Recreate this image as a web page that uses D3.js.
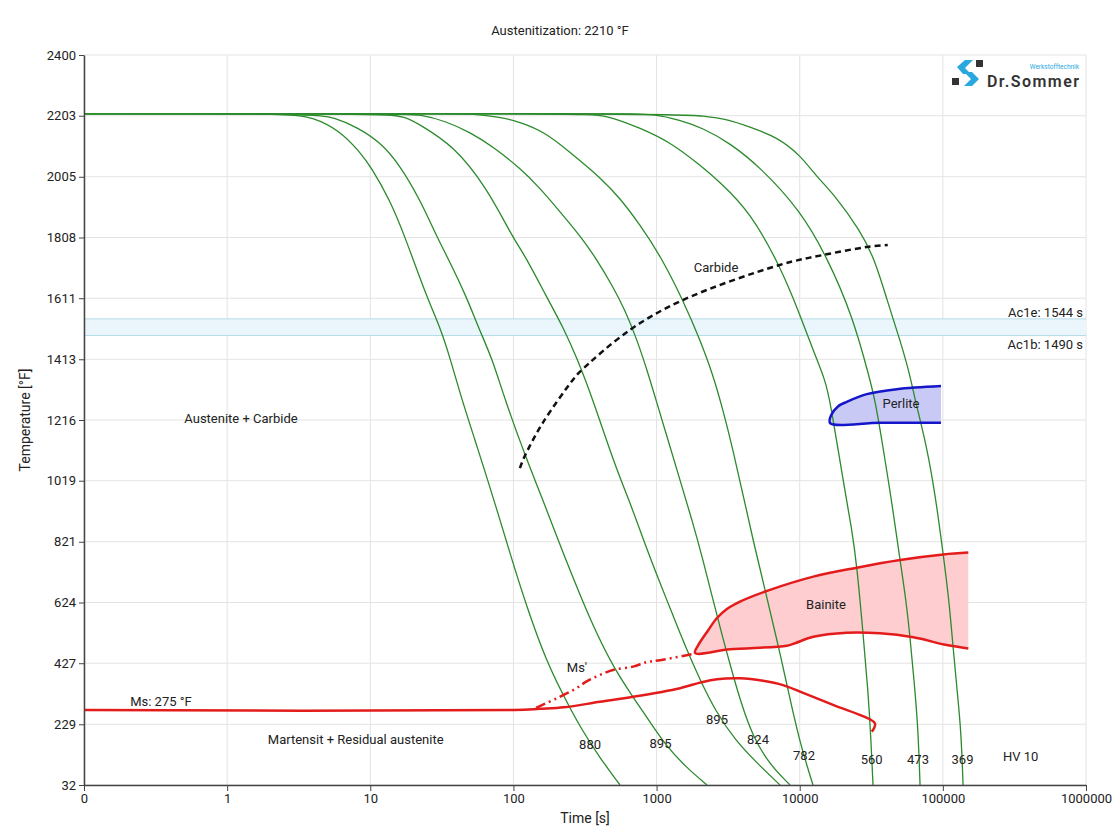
<!DOCTYPE html>
<html>
<head>
<meta charset="utf-8">
<script src="https://cdn.jsdelivr.net/npm/d3@7"></script>
<style>
  body { margin: 0; background: #fff; }
  text { font-family: Roboto, "Noto Sans", sans-serif; fill: #222; }
</style>
</head>
<body>
<div id="chart"></div>
<script>
const W = 1120, H = 840;
const margin = {top: 55, right: 34, bottom: 55, left: 84};

// axis ticks
const xTicks = [0.1, 1, 10, 100, 1000, 10000, 100000, 1000000];
const xTickLabels = ["0", "1", "10", "100", "1000", "10000", "100000", "1000000"];
const yTicks = [32, 229, 427, 624, 821, 1019, 1216, 1413, 1611, 1808, 2005, 2203, 2400];

// cooling curves (time in s, temperature in °F) and their hardness HV 10
const hardness = [880, 895, 895, 824, 782, 560, 473, 369];
const curveTimes = [
    [0.1, 2.75, 3.92, 6.05, 8.48, 10.1, 13.7, 17.5, 24.9, 30.7, 36.1, 43.7, 53.9, 66.4, 80.6, 97.7, 126, 169, 226, 301, 402, 555],
    [0.1, 4.04, 5.67, 8.08, 11.7, 16.1, 22.3, 29.2, 34.9, 47.4, 56.6, 70.9, 87.3, 124, 166, 218, 292, 384, 513, 685, 900, 1183, 1632, 2251],
    [0.1, 11.3, 17.5, 22.3, 37.8, 65.4, 99.3, 120, 172, 222, 278, 360, 504, 663, 844, 1057, 1282, 1606, 2012, 2601, 3532, 5030, 7287],
    [0.1, 16.1, 22.3, 33.3, 49.7, 74.3, 111, 153, 212, 297, 384, 488, 602, 730, 858, 991, 1202, 1458, 1769, 2110, 2480, 2866, 3311, 3890, 4718, 6200, 8555],
    [0.1, 36.1, 52.2, 80.6, 111, 166, 248, 402, 555, 766, 1057, 1530, 2012, 2480, 2912, 3420, 4018, 4718, 5723, 6939, 8154, 9888, 12380],
    [0.1, 292, 451, 766, 1241, 2012, 2775, 4495, 7287, 10050, 12790, 15030, 16280, 20070, 23190, 25140, 27680, 30000, 31480, 32510],
    [0.1, 652, 944, 1458, 2110, 3259, 5279, 10050, 15510, 23570, 30980, 33580, 38200, 44850, 50200, 55280, 58960, 62880, 67080, 69280],
    [0.1, 1458, 2110, 3105, 4495, 6939, 10050, 13210, 17090, 26390, 33580, 40730, 50200, 58960, 63900, 77500, 89590, 100250, 110400, 117800, 125600, 134000, 138400]
];
const curveTemps = [
    [2210, 2210, 2199, 2157, 2085, 2037, 1930, 1810, 1612, 1518, 1417, 1281, 1151, 1018, 892, 762, 600, 437, 317, 210, 120, 32],
    [2210, 2210, 2196, 2166, 2118, 2043, 1930, 1810, 1741, 1612, 1518, 1417, 1281, 1086, 940, 794, 648, 519, 405, 317, 236, 155, 87, 32],
    [2210, 2210, 2202, 2173, 2108, 1969, 1806, 1751, 1612, 1518, 1417, 1281, 1077, 940, 804, 687, 590, 476, 373, 269, 178, 103, 32],
    [2210, 2210, 2207, 2186, 2150, 2098, 2033, 1969, 1891, 1810, 1735, 1654, 1573, 1476, 1378, 1281, 1151, 1021, 892, 762, 632, 519, 412, 298, 188, 97, 32],
    [2210, 2210, 2209, 2199, 2183, 2150, 2085, 2004, 1936, 1849, 1751, 1605, 1476, 1362, 1248, 1119, 973, 827, 665, 502, 356, 178, 32],
    [2210, 2210, 2205, 2163, 2118, 2043, 1988, 1891, 1716, 1557, 1427, 1346, 1281, 1021, 859, 739, 525, 340, 178, 32],
    [2210, 2210, 2209, 2189, 2163, 2114, 2037, 1897, 1745, 1550, 1346, 1281, 1128, 924, 762, 632, 512, 373, 220, 32],
    [2210, 2210, 2202, 2192, 2166, 2134, 2076, 2004, 1952, 1832, 1735, 1605, 1476, 1362, 1281, 1128, 956, 785, 632, 480, 340, 210, 32]
];
const hardnessTimes = [343, 1065, 2645, 5112, 10715, 31840, 67080, 137200];
const hardnessTemps = [162, 168, 246, 181, 129, 116, 116, 116];

// Ac1b / Ac1e band
const acTemps = [1490, 1544];
const acLabels = ["Ac1b: 1490 s", "Ac1e: 1544 s"];

// martensite start
const msTime = [0.1, 101, 153, 226, 402, 685, 1458, 2012, 2645, 3827, 5541, 7643, 10050, 17090, 30980, 33580, 33050, 31840];
const msTemp = [275, 275, 279, 284, 302, 318, 346, 364, 375, 378, 370, 356, 335, 292, 245, 232, 216, 205];
const msPrimeTime = [144, 202, 269, 327, 402, 496, 685, 858, 1057, 1797];
const msPrimeTemp = [282, 314, 343, 369, 389, 405, 416, 431, 437, 457];

// carbide precipitation start
const carbideTime = [111, 120, 160, 260, 291, 650, 1525, 7250, 14500, 29400, 41200];
const carbideTemp = [1060, 1099, 1206, 1346, 1372, 1508, 1605, 1719, 1751, 1777, 1784];

// bainite field
const bainiteTopTime = [1856, 1950, 2300, 2633, 3100, 3827, 6200, 12445, 25010, 50200, 100740, 150600];
const bainiteTopTemp = [460, 485, 535, 573, 603, 627, 665, 708, 737, 762, 780, 786];
const bainiteBottomTime = [1856, 3259, 8114, 9273, 12445, 21300, 36390, 62170, 106400, 150600];
const bainiteBottomTemp = [460, 472, 484, 492, 513, 526, 524, 511, 486, 475];

// perlite field
const perliteTopTime = [16300, 16600, 18500, 21300, 29400, 47600, 97000];
const perliteTopTemp = [1206, 1232, 1260, 1275, 1300, 1316, 1326];
const perliteBottomTime = [16300, 36400, 97000];
const perliteBottomTemp = [1206, 1207, 1207];

// region labels
const regionLabels = ["Austenite + Carbide", "Martensit + Residual austenite", "Carbide", "Perlite", "Bainite", "Ms'", "Ms: 275 °F", "HV 10"];
const regionTimes = [1.25, 7.91, 2602, 51020, 15270, 278, 0.345, 350000];
const regionTemps = [1222, 178, 1712, 1271, 616, 412, 302, 123];

const x = d3.scaleLog()
    .domain([0.1, 1000000])
    .range([margin.left, W - margin.right]);

const y = d3.scaleLinear()
    .domain([32, 2400])
    .range([H - margin.bottom, margin.top]);

const svg = d3.select("#chart")
    .append("svg")
    .attr("width", W)
    .attr("height", H);

svg.append("defs").append("clipPath")
    .attr("id", "plot-clip")
    .append("rect")
    .attr("x", margin.left)
    .attr("y", margin.top)
    .attr("width", W - margin.left - margin.right)
    .attr("height", H - margin.top - margin.bottom);

// grid
const grid = svg.append("g").attr("stroke", "#e3e3e3").attr("stroke-width", 1);
grid.selectAll(".gx")
    .data(xTicks)
    .join("line")
    .attr("x1", d => x(d)).attr("x2", d => x(d))
    .attr("y1", margin.top).attr("y2", H - margin.bottom);
grid.selectAll(".gy")
    .data(yTicks)
    .join("line")
    .attr("x1", margin.left).attr("x2", W - margin.right)
    .attr("y1", d => y(d)).attr("y2", d => y(d));

// Ac band
svg.append("rect")
    .attr("x", margin.left)
    .attr("width", W - margin.left - margin.right)
    .attr("y", y(acTemps[1]))
    .attr("height", y(acTemps[0]) - y(acTemps[1]))
    .attr("fill", "#eaf6fb");
svg.selectAll(".acline")
    .data(acTemps)
    .join("line")
    .attr("x1", margin.left).attr("x2", W - margin.right)
    .attr("y1", d => y(d)).attr("y2", d => y(d))
    .attr("stroke", "#b5dbe9")
    .attr("stroke-width", 1);
svg.selectAll(".aclabel")
    .data(acLabels)
    .join("text")
    .attr("x", W - 37)
    .attr("y", (d, i) => i === 0 ? y(acTemps[0]) + 13 : y(acTemps[1]) - 2)
    .attr("text-anchor", "end")
    .attr("font-size", 13)
    .text(d => d);

const plot = svg.append("g").attr("clip-path", "url(#plot-clip)");

const smooth = d3.line()
    .x(d => x(d[0]))
    .y(d => y(d[1]))
    .curve(d3.curveCatmullRom.alpha(0.5));

// phase fields
function field(topT, topV, botT, botV, fill, stroke) {
    const top = d3.zip(topT, topV);
    const bottom = d3.zip(botT, botV);
    const outline = top.slice().reverse().concat(bottom.slice(1));
    plot.append("path")
        .attr("d", smooth(outline) + "Z")
        .attr("fill", fill)
        .attr("stroke", "none");
    return {outline, stroke};
}
const perlite = field(perliteTopTime, perliteTopTemp, perliteBottomTime, perliteBottomTemp, "#c9c9f6", "#1515c9");
const bainite = field(bainiteTopTime, bainiteTopTemp, bainiteBottomTime, bainiteBottomTemp, "#fdcdd0", "#e31b1b");

// cooling curves
const coolLine = d3.line()
    .x(d => x(d[0]))
    .y(d => y(d[1]))
    .curve(d3.curveBasis);

plot.selectAll(".cool")
    .data(curveTimes.map((ts, i) => d3.zip(ts, curveTemps[i])))
    .join("path")
    .attr("class", "cool")
    .attr("d", coolLine)
    .attr("fill", "none")
    .attr("stroke", "#2b8a2b")
    .attr("stroke-width", 1.3);

// field outlines
[perlite, bainite].forEach(f => {
    plot.append("path")
        .attr("d", smooth(f.outline))
        .attr("fill", "none")
        .attr("stroke", f.stroke)
        .attr("stroke-width", 2.5)
        .attr("stroke-linejoin", "round");
});

// Ms and Ms'
plot.append("path")
    .attr("d", smooth(d3.zip(msTime, msTemp)))
    .attr("fill", "none")
    .attr("stroke", "#e31b1b")
    .attr("stroke-width", 2.5);

plot.append("path")
    .attr("d", smooth(d3.zip(msPrimeTime, msPrimeTemp)))
    .attr("fill", "none")
    .attr("stroke", "#e31b1b")
    .attr("stroke-width", 2.5)
    .attr("stroke-dasharray", "10,4,2,4,2,4");

// carbide
plot.append("path")
    .attr("d", smooth(d3.zip(carbideTime, carbideTemp)))
    .attr("fill", "none")
    .attr("stroke", "#111")
    .attr("stroke-width", 2.5)
    .attr("stroke-dasharray", "6,4");

// hardness labels
svg.selectAll(".hv")
    .data(hardness)
    .join("text")
    .attr("x", (d, i) => x(hardnessTimes[i]))
    .attr("y", (d, i) => y(hardnessTemps[i]))
    .attr("text-anchor", "middle")
    .attr("dominant-baseline", "central")
    .attr("font-size", 13)
    .text(d => d);

// region labels
svg.selectAll(".region")
    .data(regionLabels)
    .join("text")
    .attr("x", (d, i) => x(regionTimes[i]))
    .attr("y", (d, i) => y(regionTemps[i]))
    .attr("text-anchor", "middle")
    .attr("dominant-baseline", "central")
    .attr("font-size", 13)
    .text(d => d);

// axes
const yAxis = d3.axisLeft(y).tickValues(yTicks).tickFormat(d => String(d))
    .tickSize(5).tickSizeOuter(0);
const xAxis = d3.axisBottom(x).tickValues(xTicks)
    .tickFormat((d, i) => xTickLabels[i]).tickSize(6).tickSizeOuter(0);

const gy = svg.append("g")
    .attr("transform", `translate(${margin.left},0)`)
    .call(yAxis);
const gx = svg.append("g")
    .attr("transform", `translate(0,${H - margin.bottom})`)
    .call(xAxis);
[gx, gy].forEach(g => {
    g.select(".domain").attr("stroke", "#444").attr("stroke-width", 1.5);
    g.selectAll(".tick line").attr("stroke", "#444");
    g.selectAll(".tick text")
        .attr("font-size", 13)
        .attr("font-family", "Roboto, 'Noto Sans', sans-serif")
        .attr("fill", "#222");
});

// titles
svg.append("text")
    .attr("x", W / 2)
    .attr("y", 35)
    .attr("text-anchor", "middle")
    .attr("font-size", 13)
    .text("Austenitization: 2210 °F");

svg.append("text")
    .attr("x", (margin.left + W - margin.right) / 2)
    .attr("y", 823)
    .attr("text-anchor", "middle")
    .attr("font-size", 14)
    .text("Time [s]");

svg.append("text")
    .attr("transform", `translate(30,${(margin.top + H - margin.bottom) / 2}) rotate(-90)`)
    .attr("text-anchor", "middle")
    .attr("font-size", 14)
    .text("Temperature [°F]");

// logo
const logo = svg.append("g");
logo.append("path")
    .attr("d", "M965,60 L973,60 L965,68 L971,74 L963,74 L957,67 Z")
    .attr("fill", "#29a8e0");
logo.append("path")
    .attr("d", "M964,72 L972,72 L979,79 L972,86 L964,86 L971,79 Z")
    .attr("fill", "#29a8e0");
logo.append("rect").attr("x", 976).attr("y", 60).attr("width", 7).attr("height", 7).attr("fill", "#333");
logo.append("rect").attr("x", 952).attr("y", 78).attr("width", 7).attr("height", 7).attr("fill", "#333");
logo.append("text")
    .attr("x", 987).attr("y", 87)
    .attr("font-size", 16).attr("font-weight", 600)
    .attr("textLength", 92)
    .style("fill", "#333")
    .text("Dr.Sommer");
logo.append("text")
    .attr("x", 1079).attr("y", 69)
    .attr("text-anchor", "end")
    .attr("font-size", 6.5)
    .style("fill", "#29a8e0")
    .text("Werkstofftechnik");
</script>
</body>
</html>
